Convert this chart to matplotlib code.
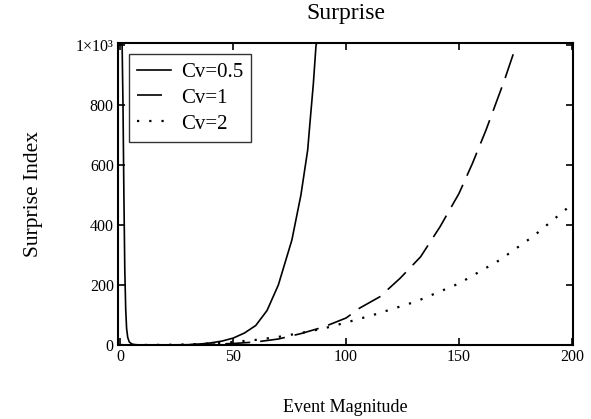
import matplotlib
matplotlib.use("Agg")
import matplotlib.pyplot as plt

plt.rcParams['font.family'] = ['Liberation Serif', 'DejaVu Serif']

# values
x_cv05 = [0.8, 1.2, 1.6, 2.0, 2.4, 2.8, 3.3, 4, 5, 6, 8, 15, 25, 30, 35, 40, 45, 50,
          55, 60, 65, 70, 72, 76, 80, 83, 84, 85.5, 86.7, 87.2]
y_cv05 = [1010, 800, 500, 250, 120, 55, 25, 10, 4, 1.5, 0.5, 0.2, 0.5, 1, 3, 7, 13, 23,
          40, 65, 115, 200, 250, 350, 500, 650, 740, 870, 1000, 1010]

x_cv1 = [0, 10, 20, 30, 40, 50, 60, 70, 80, 90, 100, 106, 115, 124, 133, 141.6, 150,
         156, 162, 170, 174.5]
y_cv1 = [0, 0, 0.2, 1, 2.5, 5, 10, 20, 38, 60, 90, 123, 161, 223, 294, 394, 505,
         606, 717, 880, 980]

x_cv2 = [0, 10, 20, 30, 40, 50, 60, 70, 80, 90, 100, 112, 131, 150, 168, 183, 197, 200]
y_cv2 = [0, 0.1, 0.5, 2, 5, 10, 17, 27, 40, 55, 75, 100, 145, 205, 283, 363, 450, 470]

x_ticks = [0, 50, 100, 150, 200]
y_ticks = [0, 200, 400, 600, 800, 1000]
y_labels = ['0', '200', '400', '600', '800', '1×10³']

fig = plt.figure(figsize=(5.91, 4.19), dpi=100)
ax = fig.add_axes([0.1997, 0.1766, 0.7698, 0.7208])

ax.plot(x_cv05, y_cv05, color='black', lw=1.2, label='Cv=0.5')
ax.plot(x_cv1, y_cv1, color='black', lw=1.2, linestyle=(0, (15, 6)), label='Cv=1')
ax.plot(x_cv2, y_cv2, color='black', lw=1.6, linestyle=(0, (1, 4.5)), label='Cv=2')

ax.set_xlim(-1, 200.5)
ax.set_ylim(0, 1007)
ax.set_xticks(x_ticks)
ax.set_yticks(y_ticks)
ax.set_yticklabels(y_labels)
ax.tick_params(direction='in', length=5, width=1.2, top=True, right=True,
               labelsize=11.5, pad=3, colors='black')
for s in ax.spines.values():
    s.set_linewidth(1.5)

ax.set_title('Surprise', fontsize=17, pad=17)
ax.set_xlabel('Event Magnitude', fontsize=13, labelpad=24)
ax.set_ylabel('Surprise Index', fontsize=15.5, labelpad=24)

leg = ax.legend(loc='upper left', fontsize=15, frameon=True, fancybox=False,
                edgecolor='black', handlelength=1.6, handletextpad=0.5,
                borderpad=0.38, labelspacing=0.3, borderaxespad=0.55)
leg.get_frame().set_linewidth(1.0)

fig.savefig('out.png', dpi=100)
